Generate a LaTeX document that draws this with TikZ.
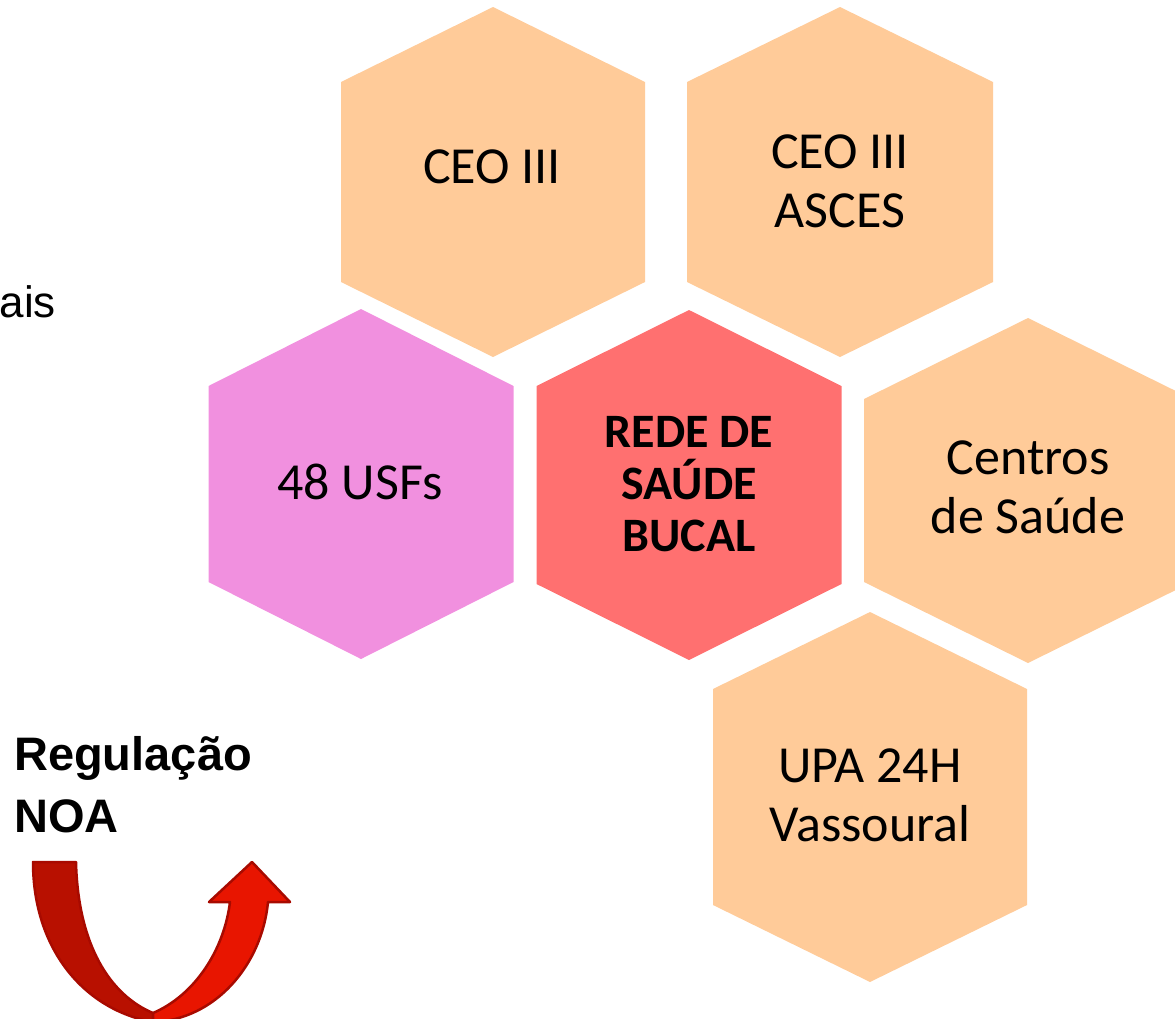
\documentclass[tikz,border=0pt]{standalone}
\usepackage{fontspec}
\setmainfont{Carlito}
\newfontfamily\arialf{Liberation Sans}
\definecolor{peach}{HTML}{FFCB99}
\definecolor{pinkh}{HTML}{F190DF}
\definecolor{redh}{HTML}{FF7070}
\definecolor{arrowdark}{HTML}{B81000}
\definecolor{arrowlight}{HTML}{E81500}
\definecolor{arrowline}{HTML}{A80A00}
% hexagon: centre x, top y, bottom y, half width, slope drop
\newcommand\hexpath[5]{(#1,#2) -- (#1+#4,#2+#5) -- (#1+#4,#3-#5) -- (#1,#3) -- (#1-#4,#3-#5) -- (#1-#4,#2+#5) -- cycle}
\begin{document}
\begin{tikzpicture}[x=1pt,y=-1pt,
  lbl/.style={inner sep=0pt, align=center, font=\fontsize{52}{59}\selectfont},
  blbl/.style={inner sep=0pt, align=center, font=\fontsize{48}{52}\selectfont\bfseries},
  side/.style={inner sep=0pt, align=left, font=\arialf\fontsize{44}{62}\selectfont}]
\useasboundingbox (0,0) rectangle (1175,1018);
\clip (0,0) rectangle (1175,1018);

% hexagons
\fill[peach] \hexpath{493}{7}{357}{152}{75};
\fill[peach] \hexpath{840}{7}{357}{153}{75};
\fill[pinkh] \hexpath{361}{309}{659}{152.5}{77};
\fill[redh]  \hexpath{689}{310}{660}{152.5}{76};
\fill[peach] \hexpath{1028}{318}{663}{164}{81};
\fill[peach] \hexpath{870}{612}{982}{157}{77};

% labels (base anchor = baseline of the last line)
\node[lbl, anchor=base] (ceo) at (492,183) {CEO III};
\node[lbl, anchor=base] (asces) at (840,227) {CEO III\\ASCES};
\node[lbl, anchor=base] (usf) at (360,499) {48 USFs};
\node[blbl, anchor=base] (rede) at (689,551) {REDE DE\\SAÚDE\\BUCAL};
\node[lbl, anchor=base] (centros) at (1028,533) {Centros\\de Saúde};
\node[lbl, anchor=base] (upa) at (870,841) {UPA 24H\\Vassoural};

\node[side, anchor=base east] (ais) at (56,317) {ais};
\node[side, anchor=base west, font=\arialf\bfseries\fontsize{47}{62}\selectfont] (reg) at (14,832) {Regulação\\NOA};

% U-turn arrow
\filldraw[fill=arrowdark, draw=arrowline, line width=2.5pt, line join=round]
  (33,862) -- (76,862) .. controls (78,945) and (110,995) .. (153,1013)
  -- (153,1022) .. controls (85,1010) and (33,950) .. (33,862) -- cycle;
\filldraw[fill=arrowlight, draw=arrowline, line width=2.5pt, line join=round]
  (153,1013) .. controls (195,995) and (224,950) .. (230,902)
  -- (209,902) -- (252,862) -- (290,902) -- (268,902)
  .. controls (262,965) and (215,1020) .. (153,1022) -- cycle;
\end{tikzpicture}
\end{document}
